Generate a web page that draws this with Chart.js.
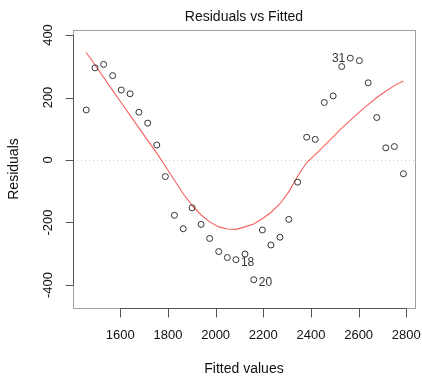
<!DOCTYPE html>
<html>
<head>
<meta charset="utf-8">
<script src="https://cdn.jsdelivr.net/npm/chart.js@4"></script>
<style>
  html, body { margin: 0; padding: 0; background: #fff; }
</style>
</head>
<body>
<canvas id="resid" width="422" height="378"></canvas>
<script>
// fitted values (x) and residuals (y), in observation order
const fitted = [1457, 1494, 1530, 1568, 1604, 1641, 1678, 1715, 1753, 1789, 1827, 1864, 1901,
  1939, 1975, 2013, 2049, 2085, 2123, 2160, 2196, 2232, 2270, 2307, 2344, 2382, 2418, 2456,
  2493, 2529, 2565, 2603, 2640, 2676, 2714, 2750, 2788];
const residuals = [160, 295, 306, 270, 224, 212, 153, 118, 48, -53, -177, -220, -153,
  -206, -251, -293, -312, -319, -301, -383, -224, -272, -247, -190, -71, 73, 66, 184,
  205, 299, 326, 318, 247, 136, 39, 43, -44];
// smoother line evaluated at the fitted values
const smooth = [344, 304, 264, 223, 183, 143, 103, 63, 22, -20, -65, -108, -145,
  -176, -198, -214, -221, -222, -214, -205, -188, -168, -140, -102, -52, -8, 17, 46,
  74, 102, 127, 153, 177, 200, 220, 238, 253];

const xTicks = [1600, 1800, 2000, 2200, 2400, 2600, 2800];
const yTicks = [-400, -200, 0, 200, 400];
const labelledObs = [18, 20, 31];

const FONT = "'Liberation Sans', Arial, sans-serif";

const pointData = fitted.map((f, i) => ({ x: f, y: residuals[i] }));
const smoothData = fitted.map((f, i) => ({ x: f, y: smooth[i] }));

// dotted zero line behind the marks
const zeroLine = {
    id: 'zeroLine',
    beforeDatasetsDraw(chart) {
        const { ctx, chartArea: a, scales: { y } } = chart;
        const py = Math.round(y.getPixelForValue(0)) + 0.5;
        ctx.save();
        ctx.strokeStyle = '#c8c8c8';
        ctx.lineWidth = 1;
        ctx.setLineDash([1, 3]);
        ctx.beginPath();
        ctx.moveTo(a.left, py);
        ctx.lineTo(a.right, py);
        ctx.stroke();
        ctx.restore();
    }
};

// R-style box, axes, titles and point ids
const rFrame = {
    id: 'rFrame',
    afterDraw(chart) {
        const { ctx, chartArea: a, scales: { x, y } } = chart;
        ctx.save();

        ctx.strokeStyle = '#a0a0a0';
        ctx.lineWidth = 1;
        ctx.strokeRect(a.left + 0.5, a.top + 0.5, a.right - a.left, a.bottom - a.top);

        // x axis
        ctx.strokeStyle = '#555';
        const by = a.bottom + 0.5;
        ctx.beginPath();
        ctx.moveTo(Math.round(x.getPixelForValue(xTicks[0])) + 0.5, by);
        ctx.lineTo(Math.round(x.getPixelForValue(xTicks[xTicks.length - 1])) + 0.5, by);
        xTicks.forEach(t => {
            const px = Math.round(x.getPixelForValue(t)) + 0.5;
            ctx.moveTo(px, by);
            ctx.lineTo(px, by + 9);
        });
        ctx.stroke();

        ctx.fillStyle = '#111';
        ctx.font = '13px ' + FONT;
        ctx.textAlign = 'center';
        ctx.textBaseline = 'middle';
        xTicks.forEach(t => ctx.fillText(String(t), x.getPixelForValue(t), 335));

        // y axis
        const lx = a.left + 0.5;
        ctx.beginPath();
        ctx.moveTo(lx, Math.round(y.getPixelForValue(yTicks[0])) + 0.5);
        ctx.lineTo(lx, Math.round(y.getPixelForValue(yTicks[yTicks.length - 1])) + 0.5);
        yTicks.forEach(t => {
            const py = Math.round(y.getPixelForValue(t)) + 0.5;
            ctx.moveTo(lx, py);
            ctx.lineTo(lx - 8, py);
        });
        ctx.stroke();

        yTicks.forEach(t => {
            ctx.save();
            ctx.translate(48, y.getPixelForValue(t));
            ctx.rotate(-Math.PI / 2);
            ctx.fillText(String(t), 0, 0);
            ctx.restore();
        });

        // titles
        const cx = (a.left + a.right) / 2;
        ctx.font = '14px ' + FONT;
        ctx.fillText('Residuals vs Fitted', cx, 17);
        ctx.fillText('Fitted values', cx, 369);
        ctx.save();
        ctx.translate(14, (a.top + a.bottom) / 2);
        ctx.rotate(-Math.PI / 2);
        ctx.fillText('Residuals', 0, 0);
        ctx.restore();

        // ids of the largest residuals
        ctx.font = '12px ' + FONT;
        ctx.fillStyle = '#333';
        labelledObs.forEach(id => {
            const px = x.getPixelForValue(fitted[id - 1]);
            const py = y.getPixelForValue(residuals[id - 1]);
            if (fitted[id - 1] > 2400) {
                ctx.textAlign = 'right';
                ctx.fillText(String(id), px - 5, py + 1);
            } else {
                ctx.textAlign = 'left';
                ctx.fillText(String(id), px + 5, py + 3);
            }
        });

        ctx.restore();
    }
};

const ctx = document.getElementById('resid').getContext('2d');
const chart = new Chart(ctx, {
    type: 'scatter',
    data: {
        datasets: [
            {
                label: 'Residuals',
                data: pointData,
                pointRadius: 3,
                pointBorderWidth: 1,
                borderColor: '#333',
                backgroundColor: 'rgba(0,0,0,0)'
            }, {
                type: 'line',
                label: 'Smooth',
                data: smoothData,
                showLine: true,
                borderColor: 'rgb(248, 96, 96)',
                borderWidth: 1.1,
                pointRadius: 0,
                tension: 0,
                fill: false
            }
        ]
    },
    options: {
        responsive: false,
        animation: false,
        layout: { padding: { left: 73, right: 7, top: 30, bottom: 70 } },
        plugins: {
            legend: { display: false },
            tooltip: { enabled: false }
        },
        scales: {
            x: { type: 'linear', min: 1401.5, max: 2836.5, display: false },
            y: { type: 'linear', min: -473.6, max: 416, display: false }
        }
    },
    plugins: [zeroLine, rFrame]
});
</script>
</body>
</html>
